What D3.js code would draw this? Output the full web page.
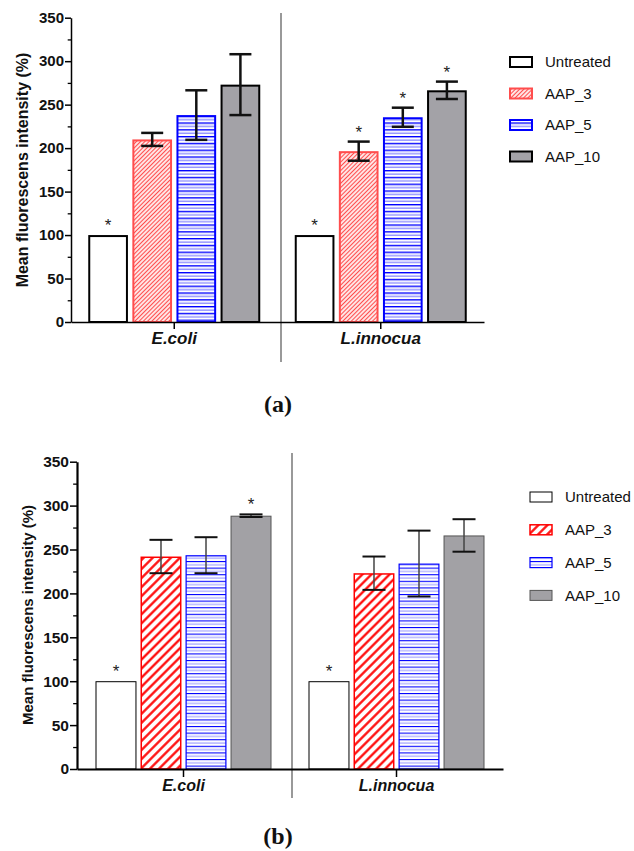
<!DOCTYPE html>
<html>
<head>
<meta charset="utf-8">
<script src="https://cdn.jsdelivr.net/npm/d3@7"></script>
<style>
  body { margin: 0; background: #fff; }
  svg { display: block; }
  text { font-family: "Liberation Sans", Arial, sans-serif; }
</style>
</head>
<body>
<div id="chart"></div>
<script>
'use strict'

// ---- data ----
let groups = ['E.coli', 'L.innocua'];
let series = ['Untreated', 'AAP_3', 'AAP_5', 'AAP_10'];
let yTicks = [0, 50, 100, 150, 200, 250, 300, 350];
let yMinor = [25, 75, 125, 175, 225, 275, 325];

// panel (a)
let meansA = [[100, 210, 238, 273], [100, 196.5, 235.5, 266.5]];
let errA   = [[0, 7.5, 28.5, 35], [0, 11, 11, 10]];
let starsA = [[1, 0, 0, 0], [1, 1, 1, 1]];

// panel (b)
let meansB = [[100, 242, 243.5, 288.5], [100, 223, 234, 266]];
let errB   = [[0, 19, 20.5, 1.5], [0, 19, 37.5, 18.5]];
let starsB = [[1, 0, 0, 1], [1, 0, 0, 0]];

var W = 634, H = 851;
var svg = d3.select('#chart').append('svg').attr('width', W).attr('height', H);
var defs = svg.append('defs');

// hatch patterns
function diagPattern(id, step, sw, color) {
  var p = defs.append('pattern').attr('id', id).attr('patternUnits', 'userSpaceOnUse')
    .attr('width', step).attr('height', step).attr('patternTransform', 'rotate(45)');
  p.append('rect').attr('width', step).attr('height', step).attr('fill', '#fff');
  p.append('line').attr('x1', step/2).attr('x2', step/2).attr('y1', 0).attr('y2', step)
    .attr('stroke', color).attr('stroke-width', sw);
}
function hPattern(id, step, sw, dark, light) {
  var p = defs.append('pattern').attr('id', id).attr('patternUnits', 'userSpaceOnUse')
    .attr('width', 8).attr('height', step*2);
  p.append('rect').attr('width', 8).attr('height', step*2).attr('fill', '#fff');
  p.append('line').attr('x1', 0).attr('x2', 8).attr('y1', sw/2).attr('y2', sw/2)
    .attr('stroke', dark).attr('stroke-width', sw);
  p.append('line').attr('x1', 0).attr('x2', 8).attr('y1', step + sw/2).attr('y2', step + sw/2)
    .attr('stroke', light).attr('stroke-width', sw);
}
diagPattern('hatchA', 3, 1.3, '#ff4d4d');
diagPattern('hatchB', 6.4, 2.2, '#ff0000');
hPattern('linesA', 3.4, 1.4, '#0000ff', '#8c8cff');
hPattern('linesB', 3.3, 1.1, '#0000ff', '#9a9aff');

function drawPanel(cfg) {
  var g = svg.append('g');
  var y = d3.scaleLinear().domain([0, 350]).range([cfg.y0, cfg.y1]);
  var xg = d3.scaleBand().domain(groups).range([cfg.x0, cfg.x1]);
  var xs = d3.scaleBand().domain(series).range([-cfg.half, cfg.half]).paddingInner(cfg.pad);

  // divider between groups
  var dx = xg(groups[1]) + cfg.divOff;
  g.append('line').attr('x1', dx).attr('x2', dx).attr('y1', cfg.divTop).attr('y2', cfg.divBot)
    .attr('stroke', '#555').attr('stroke-width', 1.2);

  // bars
  groups.forEach(function(gr, gi) {
    var cx = xg(gr) + xg.bandwidth()/2;
    series.forEach(function(s, si) {
      var st = cfg.styles[si];
      var v = cfg.means[gi][si];
      var xb = cx + xs(s);
      g.append('rect')
        .attr('x', xb + st.sw/2).attr('y', y(v) + st.sw/2)
        .attr('width', xs.bandwidth() - st.sw).attr('height', y(0) - y(v) - st.sw/2)
        .attr('fill', st.fill).attr('stroke', st.stroke).attr('stroke-width', st.sw);
      var e = cfg.errs[gi][si];
      var xm = xb + xs.bandwidth()/2;
      if (e > 0) {
        g.append('line').attr('x1', xm).attr('x2', xm).attr('y1', y(v + e)).attr('y2', y(v - e))
          .attr('stroke', cfg.errColor).attr('stroke-width', cfg.errW);
        [v + e, v - e].forEach(function(ev) {
          g.append('line').attr('x1', xm - cfg.cap).attr('x2', xm + cfg.cap)
            .attr('y1', y(ev)).attr('y2', y(ev))
            .attr('stroke', '#111').attr('stroke-width', cfg.capW);
        });
      }
      if (cfg.stars[gi][si]) {
        g.append('text').attr('x', xm).attr('y', y(v + e) - cfg.starOff)
          .attr('text-anchor', 'middle').attr('font-size', 17).attr('fill', '#222').text('*');
      }
    });
  });

  // x axis
  var xa = g.append('g').attr('transform', 'translate(0,' + cfg.y0 + ')')
    .call(d3.axisBottom(xg).tickSize(cfg.xTick).tickSizeOuter(0).tickFormat(''));
  xa.select('.domain').attr('stroke', '#000').attr('stroke-width', cfg.axisW);
  xa.selectAll('.tick line').attr('stroke', '#000').attr('stroke-width', 1.5);
  groups.forEach(function(gr) {
    g.append('text').attr('x', xg(gr) + xg.bandwidth()/2).attr('y', cfg.xLabY)
      .attr('text-anchor', 'middle').attr('font-size', cfg.xLabSize).attr('font-weight', 'bold')
      .attr('font-style', 'italic').attr('fill', '#111').text(gr);
  });

  // y axis
  var ya = g.append('g').attr('transform', 'translate(' + cfg.x0 + ',0)')
    .call(d3.axisLeft(y).tickValues(yTicks).tickSize(cfg.yTick).tickSizeOuter(0).tickPadding(1));
  ya.select('.domain').attr('stroke', '#000').attr('stroke-width', cfg.axisW);
  ya.selectAll('.tick line').attr('stroke', '#000').attr('stroke-width', 1.5);
  ya.selectAll('.tick text').attr('font-size', cfg.tickSize).attr('font-weight', 'bold')
    .attr('fill', '#111').style('font-family', '"Liberation Sans", Arial, sans-serif');
  var ym = g.append('g').attr('transform', 'translate(' + cfg.x0 + ',0)')
    .call(d3.axisLeft(y).tickValues(yMinor).tickSize(cfg.yTick*0.55).tickFormat(''));
  ym.select('.domain').remove();
  ym.selectAll('.tick line').attr('stroke', '#000').attr('stroke-width', 1.3);

  g.append('text').attr('transform', 'translate(' + cfg.yLabX + ',' + cfg.yLabY + ') rotate(-90)')
    .attr('text-anchor', 'middle').attr('font-size', cfg.yLabSize).attr('font-weight', 'bold')
    .attr('fill', '#111').text('Mean fluorescens intensity (%)');

  // legend
  series.forEach(function(s, si) {
    var st = cfg.styles[si];
    var ly = cfg.legY + si*cfg.legStep;
    g.append('rect').attr('x', cfg.legX).attr('y', ly - 5).attr('width', 22).attr('height', 10)
      .attr('fill', st.fill).attr('stroke', st.stroke).attr('stroke-width', st.sw);
    g.append('text').attr('x', cfg.legX + 35).attr('y', ly).attr('dy', '0.36em')
      .attr('font-size', 15).attr('fill', '#111').text(s);
  });

  // panel label
  g.append('text').attr('x', cfg.tagX).attr('y', cfg.tagY).attr('text-anchor', 'middle')
    .style('font-family', '"Liberation Serif", "Times New Roman", serif')
    .attr('font-size', 24).attr('font-weight', 'bold').attr('fill', '#111').text(cfg.tag);
}

drawPanel({
  means: meansA, errs: errA, stars: starsA,
  x0: 71, x1: 484, y0: 322, y1: 17.7, half: 86, pad: 0.1,
  divOff: 3.5, divTop: 13, divBot: 362,
  styles: [
    {fill: '#fff', stroke: '#000', sw: 2},
    {fill: 'url(#hatchA)', stroke: '#ff4d4d', sw: 2},
    {fill: 'url(#linesA)', stroke: '#0000ff', sw: 2},
    {fill: '#a3a2a7', stroke: '#000', sw: 2}
  ],
  errColor: '#111', errW: 2.5, cap: 11, capW: 2.5, starOff: 4,
  axisW: 1.5, xTick: 7, yTick: 6, xLabY: 344, xLabSize: 17, tickSize: 15,
  yLabX: 28, yLabY: 170, yLabSize: 16,
  legX: 510, legY: 62, legStep: 31.5,
  tag: '(a)', tagX: 278, tagY: 412
});

drawPanel({
  means: meansB, errs: errB, stars: starsB,
  x0: 77, x1: 503, y0: 769, y1: 461.7, half: 88, pad: 0.09,
  divOff: 2, divTop: 453, divBot: 798,
  styles: [
    {fill: '#fff', stroke: '#000', sw: 1},
    {fill: 'url(#hatchB)', stroke: '#ff0000', sw: 1.5},
    {fill: 'url(#linesB)', stroke: '#0000ff', sw: 1.2},
    {fill: '#a2a1a5', stroke: '#555', sw: 1}
  ],
  errColor: '#444', errW: 1.5, cap: 11.5, capW: 2, starOff: 4,
  axisW: 2.2, xTick: 8, yTick: 7, xLabY: 791, xLabSize: 16, tickSize: 15.5,
  yLabX: 33, yLabY: 615, yLabSize: 15,
  legX: 530, legY: 497, legStep: 32.8,
  tag: '(b)', tagX: 278, tagY: 844
});
</script>
</body>
</html>
